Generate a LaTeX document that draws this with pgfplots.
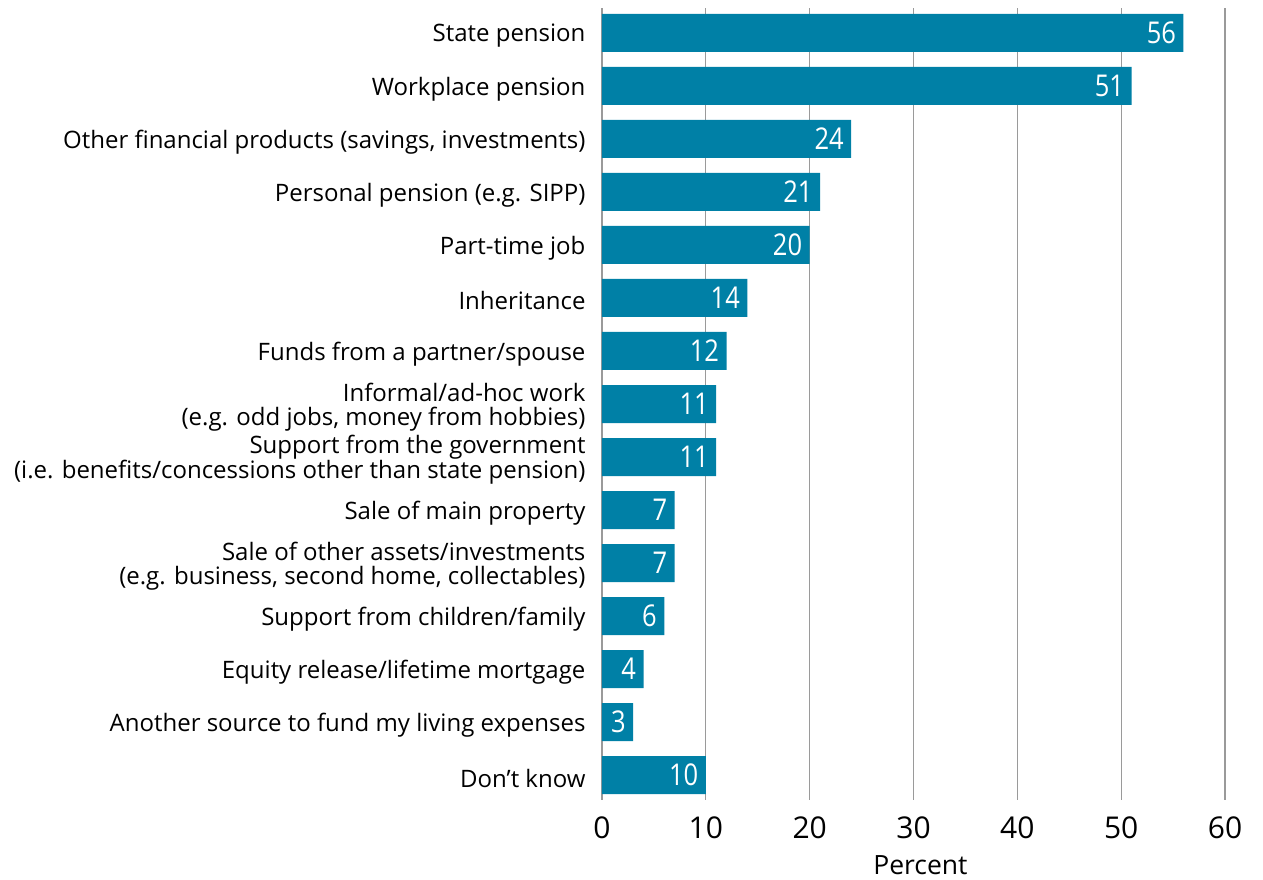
\documentclass[border=0pt]{standalone}
\usepackage{pgfplots}
\pgfplotsset{compat=1.18}
\usepackage{fontspec}
\setmainfont{Open Sans}
\newfontfamily\valfont[FakeStretch=0.85]{Open Sans}
\definecolor{barblue}{HTML}{0080A6}
\definecolor{gridgray}{HTML}{9A9A9A}
\begin{document}
\begin{tikzpicture}
\useasboundingbox (-602pt,-79pt) rectangle (661pt,800pt);
\begin{axis}[
  at={(0pt,0pt)}, anchor=south west,
  scale only axis, width=623pt, height=792pt,
  xbar, bar width=38pt,
  xmin=0, xmax=60, ymin=-0.47, ymax=14.47,
  y dir=reverse,
  ytick={0,...,14},
  yticklabels={State pension, Workplace pension,
    {Other financial products (savings, investments)},
    Personal pension (e.g. SIPP), Part-time job, Inheritance,
    Funds from a partner/spouse,
    {Informal/ad-hoc work\\(e.g. odd jobs, money from hobbies)},
    {Support from the government\\(i.e. benefits/concessions other than state pension)},
    Sale of main property,
    {Sale of other assets/investments\\(e.g. business, second home, collectables)},
    Support from children/family,
    Equity release/lifetime mortgage,
    Another source to fund my living expenses,
    Don’t know},
  xtick={0,10,...,60},
  xmajorgrids,
  grid style={gridgray, line width=1.3pt},
  axis line style={draw=none},
  major tick length=0pt,
  /pgf/number format/assume math mode=true,
  yticklabel style={align=right, font=\fontsize{24}{24}\selectfont, xshift=-13pt, yshift=-3pt},
  xticklabel style={font=\fontsize{30}{30}\selectfont, yshift=-13pt},
  xlabel={Percent},
  xlabel style={font=\fontsize{26.5}{26.5}\selectfont, at={(axis description cs:0.5,0)}, anchor=base, yshift=-74pt, xshift=7pt},
  nodes near coords,
  nodes near coords align={anchor=east},
  every node near coord/.append style={white, font=\valfont\fontsize{30}{30}\selectfont, xshift=-4pt},
]
\addplot[fill=barblue, draw=none] coordinates {
(56,0) (51,1) (24,2) (21,3) (20,4) (14,5) (12,6) (11,7) (11,8) (7,9) (7,10) (6,11) (4,12) (3,13) (10,14)};
\end{axis}
\end{tikzpicture}
\end{document}
